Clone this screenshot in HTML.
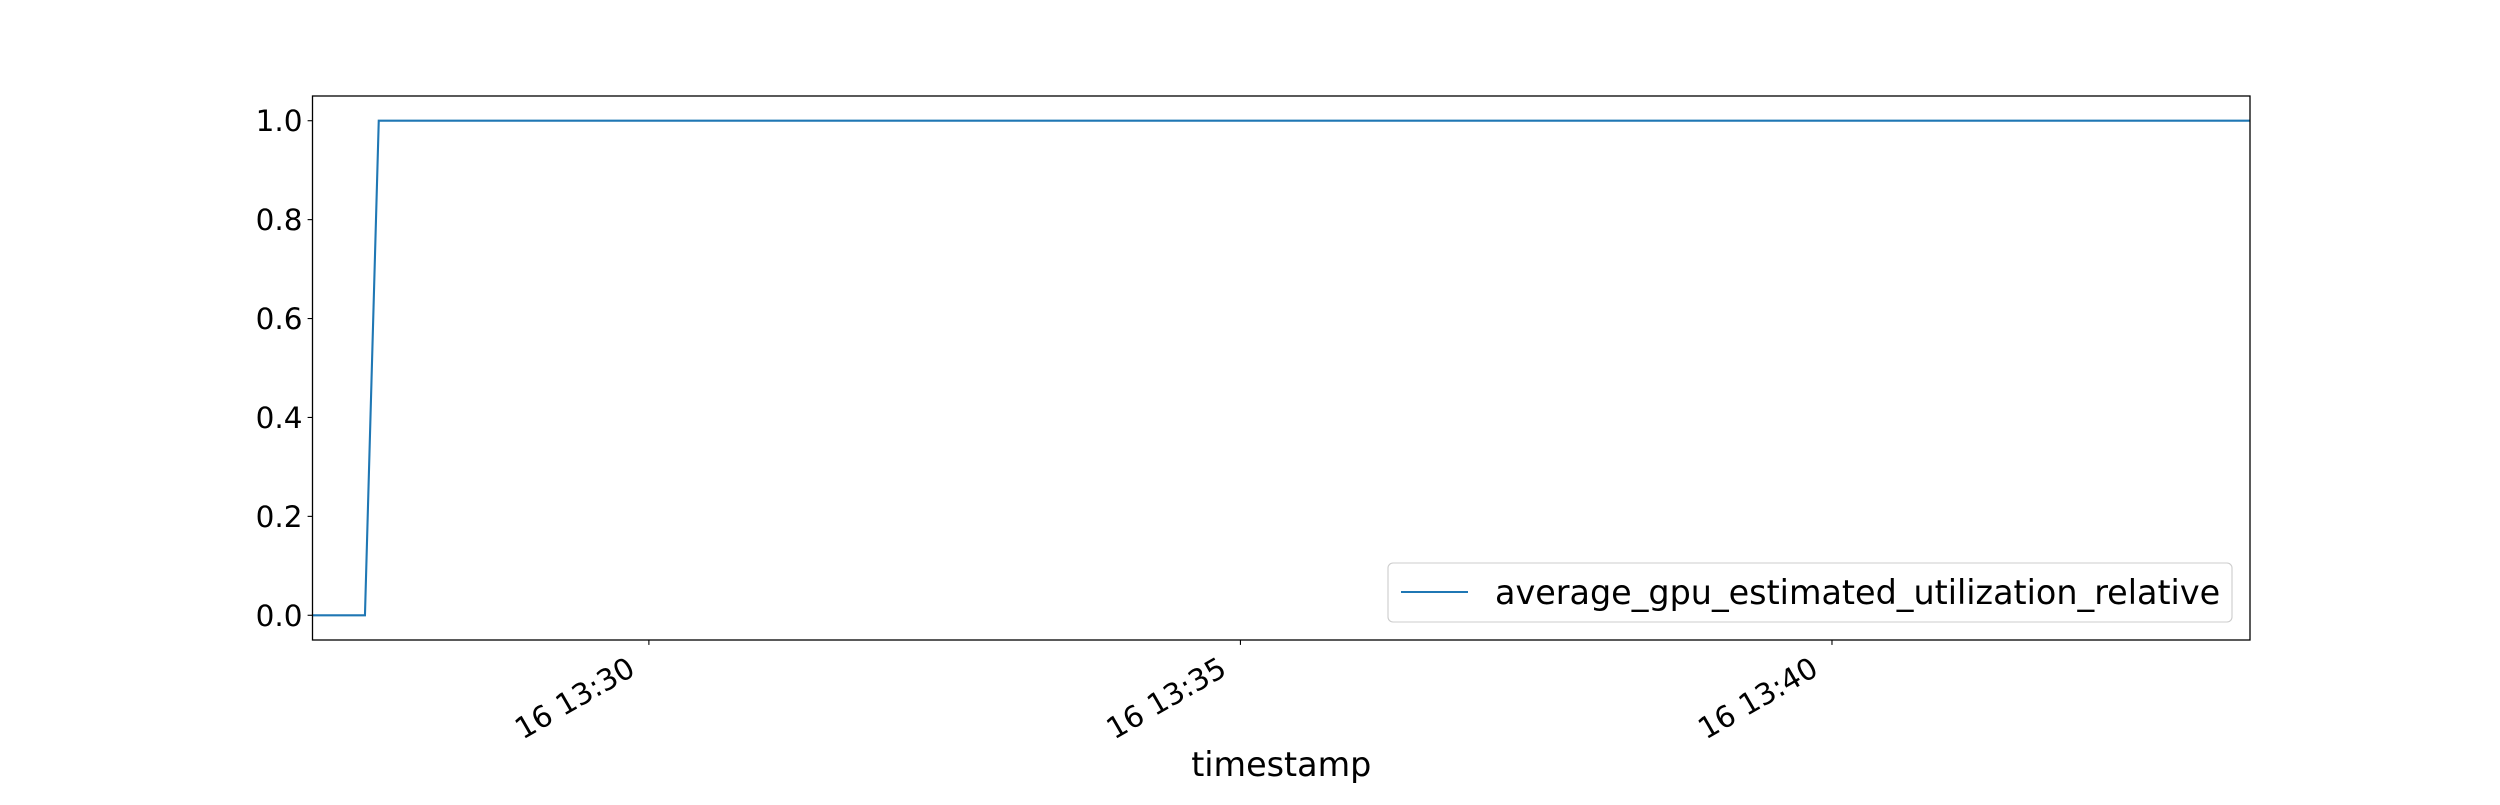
<!DOCTYPE html>
<html><head><meta charset="utf-8"><style>
body{margin:0;background:#fff}
svg text{font-family:"DejaVu Sans","Liberation Sans",sans-serif;font-size:29.5px;fill:#000}
</style></head><body>
<svg id="chart" width="2500" height="800" xmlns="http://www.w3.org/2000/svg">
<rect width="2500" height="800" fill="#fff"/>
<g id="plot"></g>
</svg>
<script>
// data: seconds after 13:27:00, and utilization values
const timesSec = [9, 36, 43, 992];
const utilValues = [0, 0, 1, 1];
const yTicks = [0.0, 0.2, 0.4, 0.6, 0.8, 1.0];
const xTickSec = [180, 480, 780];
const xTickLabels = ["16 13:30", "16 13:35", "16 13:40"];
const seriesName = "average_gpu_estimated_utilization_relative";

const L=312.5,R=2250,T=96,B=640;
const xmin=9.4,xmax=992,ymin=-0.05,ymax=1.05;
const sx=v=>L+(v-xmin)/(xmax-xmin)*(R-L);
const sy=v=>B-(v-ymin)/(ymax-ymin)*(B-T);
const NS="http://www.w3.org/2000/svg";
const g=document.getElementById('plot');
function mk(tag,attrs){const e=document.createElementNS(NS,tag);for(const k in attrs)e.setAttribute(k,attrs[k]);g.appendChild(e);return e;}

let d=timesSec.map((t,i)=>(i?'L':'M')+sx(Math.min(Math.max(t,xmin),xmax))+','+sy(utilValues[i])).join(' ');
const line=mk('path',{d:d,fill:'none',stroke:'#1f77b4','stroke-width':2.1});



const frame=mk('rect',{x:L,y:T,width:R-L,height:B-T,fill:'none',stroke:'#000','stroke-width':1.3});



yTicks.forEach(v=>{
  const y=sy(v);
  const tk=mk('line',{x1:L-4.9,x2:L,y1:y,y2:y,stroke:'#000','stroke-width':1.1});
  
  
  const t=mk('text',{x:L-10,y:y+10.5,'text-anchor':'end'});
  t.textContent=v.toFixed(1);
  
  
});

xTickSec.forEach((s,i)=>{
  const x=sx(s);
  const tk=mk('line',{x1:x,x2:x,y1:B,y2:B+4.9,stroke:'#000','stroke-width':1.1});
  
  
  const ax=x-12,ay=B+34;
  const t=mk('text',{x:ax,y:ay,'text-anchor':'end',transform:`rotate(-30 ${ax} ${ay})`});
  t.textContent=xTickLabels[i];
  
  
});

const xt=mk('text',{x:(L+R)/2,y:776,'text-anchor':'middle',style:'font-size:33.4px'});
xt.textContent='timestamp';



const lg=mk('rect',{x:1388,y:563,width:844,height:59,rx:5,fill:'#fff','fill-opacity':0.8,stroke:'#ccc','stroke-width':1.1});


const ll=mk('line',{x1:1401,x2:1468,y1:592,y2:592,stroke:'#1f77b4','stroke-width':2.1});


const lt=mk('text',{x:1495,y:604,style:'font-size:33.4px'});
lt.textContent=seriesName;


</script>
</body></html>
